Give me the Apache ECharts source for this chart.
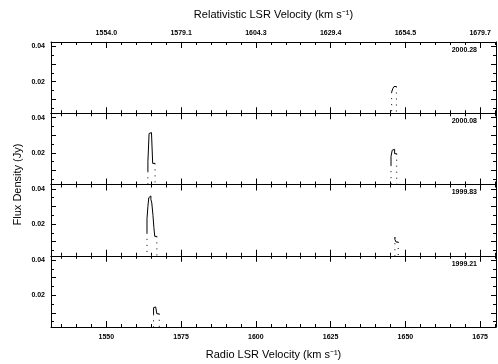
<!DOCTYPE html>
<html>
<head>
<meta charset="UTF-8">
<script src="https://cdn.jsdelivr.net/npm/echarts@6/dist/echarts.min.js"></script>
</head>
<body style="margin:0">
<div id="main" style="width:498px;height:364px"></div>
<script>
var epochs = ['2000.28', '2000.08', '1999.83', '1999.21'];
var radioTicks = [1550, 1575, 1600, 1625, 1650, 1675];
var relTicks = ['1554.0', '1579.1', '1604.3', '1629.4', '1654.5', '1679.7'];
var yLabels = [0.02, 0.04];

// channel edges (km/s) and flux per channel (Jy)
var edges_0028_b = [1645.4, 1645.8, 1646.2, 1646.6, 1647.0];
var flux_0028_b = [0.0140, 0.0145, 0.0160, 0.0172];

var edges_0008_a = [1563.9, 1564.3, 1564.7, 1565.1, 1565.5, 1565.9, 1566.3];
var flux_0008_a = [0.0095, 0.0150, 0.0310, 0.0315, 0.0320, 0.0140];
var edges_0008_b = [1645.2, 1645.6, 1646.0, 1646.4, 1646.8, 1647.1];
var flux_0008_b = [0.0130, 0.0180, 0.0215, 0.0220, 0.0195];

var edges_9983_a = [1563.6, 1563.9, 1564.2, 1564.6, 1564.9, 1565.2, 1565.6, 1565.9, 1566.2, 1566.6, 1566.9];
var flux_9983_a = [0.015, 0.023, 0.030, 0.035, 0.036, 0.034, 0.032, 0.025, 0.018, 0.013];
var edges_9983_b = [1646.5, 1646.9, 1647.3, 1647.6];
var flux_9983_b = [0.0125, 0.0112, 0.0098];

var edges_9921_a = [1565.8, 1566.1, 1566.5, 1566.9, 1567.3, 1567.7];
var flux_9921_a = [0.0092, 0.0130, 0.0134, 0.0128, 0.0095];

var features = [
    [[edges_0028_b, flux_0028_b]],
    [[edges_0008_a, flux_0008_a], [edges_0008_b, flux_0008_b]],
    [[edges_9983_a, flux_9983_a], [edges_9983_b, flux_9983_b]],
    [[edges_9921_a, flux_9921_a]]
];

var minX = 1531.5, maxX = 1680.3, minY = 0.002, maxY = 0.0425;
var gridTop = 42, gridH = 71.25;

var minorX = [];
for (var t = 1535; t <= 1680; t += 5) minorX.push(t);
var majorY = [0.01, 0.02, 0.03, 0.04];
var minorY = [0.005, 0.015, 0.025, 0.035];

var font = 'Liberation Sans';
var black = '#000';

var grids = [], xAxes = [], yAxes = [], series = [], graphics = [];

function xAx(i, pos, ticks, len, line, extra) {
    var a = {
        gridIndex: i, type: 'value', position: pos, min: minX, max: maxX,
        axisLine: {show: line, lineStyle: {color: black, width: 1}},
        axisTick: {show: true, inside: true, length: len, customValues: ticks, lineStyle: {color: black, width: 1}},
        axisLabel: {show: false},
        splitLine: {show: false}
    };
    return Object.assign(a, extra || {});
}
function yAx(i, pos, ticks, len, line, extra) {
    var a = {
        gridIndex: i, type: 'value', position: pos, min: minY, max: maxY,
        axisLine: {show: line, lineStyle: {color: black, width: 1}},
        axisTick: {show: true, inside: true, length: len, customValues: ticks, lineStyle: {color: black, width: 1}},
        axisLabel: {show: false},
        splitLine: {show: false}
    };
    return Object.assign(a, extra || {});
}

for (var i = 0; i < 4; i++) {
    var panelTop = gridTop + i * gridH;
    grids.push({left: 51, right: 2, top: panelTop, height: gridH, outerBoundsMode: 'none'});

    var bottomExtra = {};
    if (i === 3) {
        bottomExtra = {
            axisLabel: {show: true, customValues: radioTicks, fontSize: 7, fontWeight: 'bold', color: black, fontFamily: font, margin: 7,
                formatter: function (v) { return String(v); }},
            name: 'Radio LSR Velocity (km s\u207B\u00B9)', nameLocation: 'middle', nameGap: 22,
            nameTextStyle: {fontSize: 11, color: black, fontFamily: font}
        };
    }
    var topExtra = {};
    if (i === 0) {
        topExtra = {
            axisLabel: {
                show: true, customValues: radioTicks, fontSize: 7, fontWeight: 'bold', color: black, fontFamily: font, margin: 5,
                formatter: function (v) { var k = radioTicks.indexOf(v); return k < 0 ? '' : relTicks[k]; }
            },
            name: 'Relativistic LSR Velocity (km s\u207B\u00B9)', nameLocation: 'middle', nameGap: 22,
            nameTextStyle: {fontSize: 11, color: black, fontFamily: font}
        };
    }
    var xBase = xAxes.length;
    xAxes.push(xAx(i, 'bottom', radioTicks, 6, true, bottomExtra));
    xAxes.push(xAx(i, 'bottom', minorX, 3, false));
    xAxes.push(xAx(i, 'top', radioTicks, 6, true, topExtra));
    xAxes.push(xAx(i, 'top', minorX, 3, false));

    var yBase = yAxes.length;
    yAxes.push(yAx(i, 'left', majorY, 5, true, {
        axisLabel: {show: true, customValues: yLabels, fontSize: 7, fontWeight: 'bold', color: black, fontFamily: font, margin: 6,
            formatter: function (v) { return v.toFixed(2); }}
    }));
    yAxes.push(yAx(i, 'left', minorY, 3, false));
    yAxes.push(yAx(i, 'right', majorY, 5, true));
    yAxes.push(yAx(i, 'right', minorY, 3, false));

    features[i].forEach(function (f) {
        var e = f[0], fl = f[1];
        var pts = fl.map(function (v, k) { return [e[k], v]; });
        pts.push([e[e.length - 1], fl[fl.length - 1]]);
        series.push({
            type: 'line', xAxisIndex: xBase, yAxisIndex: yBase, data: pts, step: 'start',
            symbol: 'none', silent: true, animation: false,
            lineStyle: {color: black, width: 1}
        });
        var ends = [[e[0], fl[0]], [e[e.length - 1], fl[fl.length - 1]]];
        ends.forEach(function (p) {
            series.push({
                type: 'line', xAxisIndex: xBase, yAxisIndex: yBase, data: [p, [p[0], 0]],
                symbol: 'none', silent: true, animation: false,
                lineStyle: {color: black, width: 1, type: [1, 5]}
            });
        });
    });

    graphics.push({
        type: 'text', x: 477, y: panelTop + 8,
        style: {text: epochs[i], fontSize: 7, fontWeight: 'bold', fontFamily: font, fill: black, textAlign: 'right', textVerticalAlign: 'middle'}
    });
}

graphics.push({
    type: 'text', x: 18, y: gridTop + 2 * gridH, rotation: Math.PI / 2,
    style: {text: 'Flux Density (Jy)', fontSize: 11, fontFamily: font, fill: black, textAlign: 'center', textVerticalAlign: 'middle'}
});

var chart = echarts.init(document.getElementById('main'));
chart.setOption({
    animation: false,
    backgroundColor: '#fff',
    grid: grids,
    xAxis: xAxes,
    yAxis: yAxes,
    series: series,
    graphic: graphics
});
</script>
</body>
</html>
